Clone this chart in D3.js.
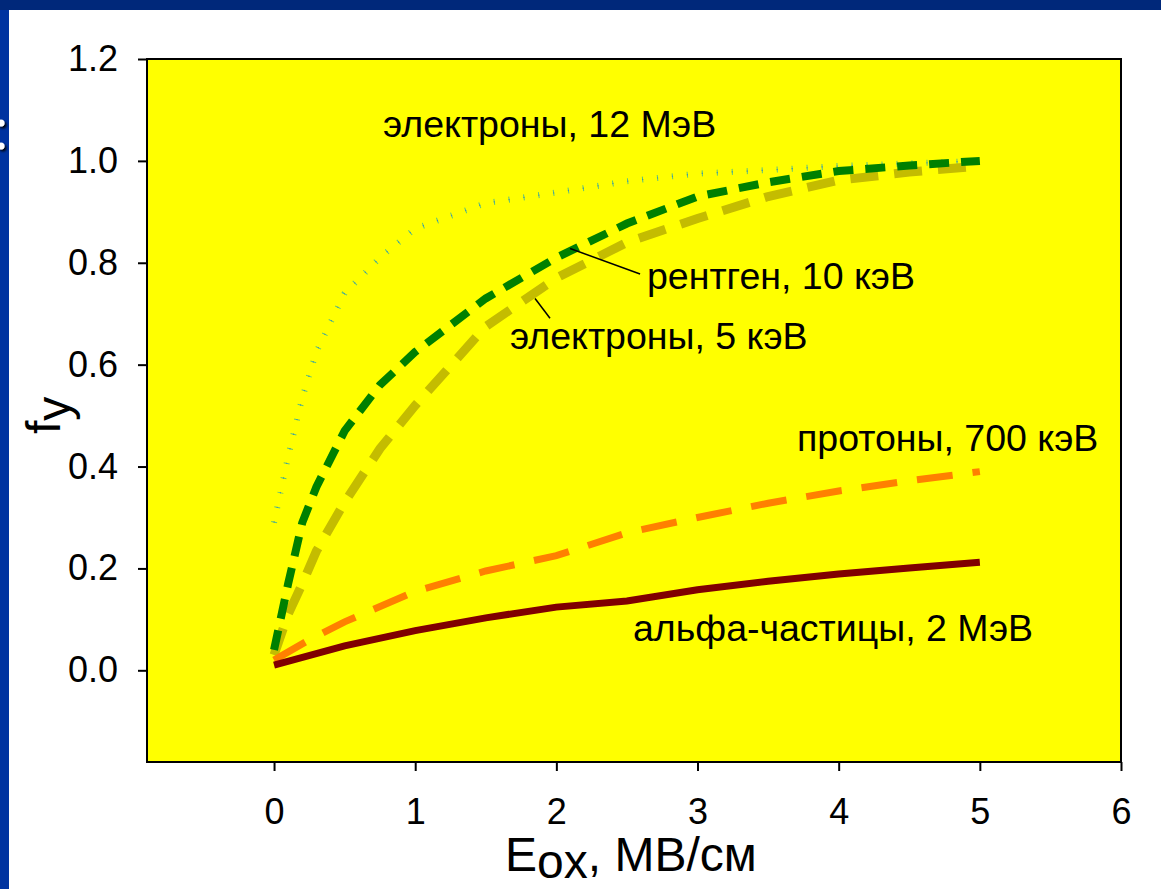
<!DOCTYPE html>
<html>
<head>
<meta charset="utf-8">
<script src="https://cdn.jsdelivr.net/npm/d3@7"></script>
<style>
  html, body { margin: 0; padding: 0; background: #ffffff; }
  svg { display: block; font-family: Arial, "Liberation Sans", sans-serif; }
</style>
</head>
<body>
<svg id="chart" width="1161" height="889"></svg>
<script>
// Field strength grid, MV/cm
const fieldFine = [0, 0.1, 0.2, 0.3, 0.5, 0.75, 1, 1.5, 2, 2.5, 3, 3.5, 4, 4.5, 5];
const fieldCoarse = [0, 0.25, 0.5, 1, 1.5, 2, 2.5, 3, 3.5, 4, 4.5, 5];
const fieldAlpha = [0, 0.5, 1, 1.5, 2, 2.5, 3, 3.5, 4, 4.5, 5];

// Charge yield f_y for each radiation type
const electrons12MeV = [0.29, 0.42, 0.535, 0.625, 0.74, 0.81, 0.867, 0.917, 0.938, 0.96, 0.975, 0.982, 0.99, 0.995, 1.0];
const xray10keV      = [0.04, 0.17, 0.29, 0.36, 0.47, 0.56, 0.625, 0.73, 0.81, 0.877, 0.93, 0.958, 0.98, 0.991, 1.0];
const electrons5keV  = [0.03, 0.11, 0.17, 0.234, 0.33, 0.435, 0.52, 0.675, 0.77, 0.84, 0.887, 0.93, 0.962, 0.978, 0.99];
const protons700keV  = [0.02, 0.06, 0.095, 0.155, 0.195, 0.225, 0.27, 0.30, 0.328, 0.352, 0.372, 0.39];
const alpha2MeV      = [0.01, 0.048, 0.078, 0.103, 0.124, 0.136, 0.158, 0.175, 0.189, 0.201, 0.212];

const xTicks = [0, 1, 2, 3, 4, 5, 6];
const yTicks = [0.0, 0.2, 0.4, 0.6, 0.8, 1.0, 1.2];

const svg = d3.select("#chart");

// slide frame
svg.append("rect").attr("x", 0).attr("y", 0).attr("width", 1161).attr("height", 889).attr("fill", "#0033a0");
svg.append("rect").attr("x", 0).attr("y", 0).attr("width", 1161).attr("height", 10).attr("fill", "#00287a");
svg.append("rect").attr("x", 9).attr("y", 10).attr("width", 1152).attr("height", 879).attr("fill", "#ffffff");
const defs = svg.append("defs");
const sh = defs.append("filter").attr("id", "dotShadow").attr("x", "-100%").attr("y", "-100%").attr("width", "300%").attr("height", "300%");
sh.append("feDropShadow").attr("dx", 2).attr("dy", 2).attr("stdDeviation", 1.2).attr("flood-color", "#000000").attr("flood-opacity", 0.9);
[123, 146].forEach(cy => {
  svg.append("circle").attr("cx", 1).attr("cy", cy).attr("r", 3.5).attr("fill", "#ffffff").attr("filter", "url(#dotShadow)");
});

const plot = { left: 147, top: 59, right: 1121, bottom: 762 };

const x = d3.scaleLinear().domain([-0.9, 6]).range([plot.left, plot.right]);
const y = d3.scaleLinear().domain([-0.18, 1.2]).range([plot.bottom, plot.top]);

// plot area
svg.append("rect")
  .attr("x", plot.left).attr("y", plot.top)
  .attr("width", plot.right - plot.left).attr("height", plot.bottom - plot.top)
  .attr("fill", "#ffff00");

const clip = defs.append("clipPath").attr("id", "plotClip");
clip.append("rect").attr("x", plot.left).attr("y", plot.top)
  .attr("width", plot.right - plot.left).attr("height", plot.bottom - plot.top);

const g = svg.append("g").attr("clip-path", "url(#plotClip)");

const line = d3.line().x(d => x(d[0])).y(d => y(d[1]));

// each series may carry several stroke layers (the dotted one has a tick plus a small centre dot)
const series = [
  { xs: fieldFine, ys: electrons12MeV, strokes: [
      { color: "#5ec27a", width: 6, dash: "1,14", offset: 0 },
      { color: "#3f8fb0", width: 1.2, dash: "1.2,13.8", offset: 0.1 }
  ]},
  { xs: fieldFine,   ys: electrons5keV,  strokes: [{ color: "#c4bc00", width: 9, dash: "28,16" }] },
  { xs: fieldFine,   ys: xray10keV,      strokes: [{ color: "#008000", width: 8, dash: "20,12" }] },
  { xs: fieldCoarse, ys: protons700keV,  strokes: [{ color: "#ff8000", width: 7, dash: "36,20" }] },
  { xs: fieldAlpha,  ys: alpha2MeV,      strokes: [{ color: "#800000", width: 7, dash: null }] }
];

series.forEach(s => {
  const pts = s.xs.map((v, i) => [v, s.ys[i]]);
  s.strokes.forEach(st => {
    g.append("path")
      .attr("d", line(pts))
      .attr("fill", "none")
      .attr("stroke", st.color)
      .attr("stroke-width", st.width)
      .attr("stroke-dasharray", st.dash)
      .attr("stroke-dashoffset", st.offset || 0)
      .attr("stroke-linejoin", "miter");
  });
});

// frame
svg.append("rect")
  .attr("x", plot.left).attr("y", plot.top)
  .attr("width", plot.right - plot.left).attr("height", plot.bottom - plot.top)
  .attr("fill", "none").attr("stroke", "#000000").attr("stroke-width", 2);

// axes
const xAxis = d3.axisBottom(x).tickValues(xTicks).tickFormat(d3.format("d")).tickSize(9).tickPadding(27);
const yAxis = d3.axisLeft(y).tickValues(yTicks).tickFormat(d3.format(".1f")).tickSize(9).tickPadding(20);

const gx = svg.append("g").attr("transform", `translate(0,${plot.bottom})`).call(xAxis);
const gy = svg.append("g").attr("transform", `translate(${plot.left},0)`).call(yAxis);
[gx, gy].forEach(a => {
  a.select(".domain").remove();
  a.selectAll(".tick line").attr("stroke", "#000000").attr("stroke-width", 2);
  a.selectAll(".tick text").attr("fill", "#000000").style("font-size", "36px")
    .style("font-family", "Arial, 'Liberation Sans', sans-serif");
});

// axis titles
const xt = svg.append("text").attr("x", 505).attr("y", 871)
  .style("font-size", "48px").attr("fill", "#000000");
xt.append("tspan").text("E");
xt.append("tspan").attr("dy", 7).text("ox");
xt.append("tspan").attr("dy", -7).text(", МВ/см");

const yt = svg.append("text")
  .attr("transform", "translate(60,434) rotate(-90)")
  .style("font-size", "48px").attr("fill", "#000000");
yt.append("tspan").text("f");
yt.append("tspan").attr("dy", 10).text("y");

// curve annotations, placed in data coordinates
const labels = [
  { t: "электроны, 12 МэВ", fx: 0.772, fy: 1.046 },
  { t: "рентген, 10 кэВ",   fx: 2.642, fy: 0.749 },
  { t: "электроны, 5 кэВ",  fx: 1.672, fy: 0.6315 },
  { t: "протоны, 700 кэВ",  fx: 3.705, fy: 0.431 },
  { t: "альфа-частицы, 2 МэВ", fx: 2.543, fy: 0.058 }
];
labels.forEach(l => {
  svg.append("text").attr("x", x(l.fx)).attr("y", y(l.fy))
    .style("font-size", "37.5px").attr("fill", "#000000").text(l.t);
});

const leaders = [
  [[2.097, 0.828], [2.593, 0.778]],
  [[1.849, 0.730], [1.955, 0.691]]
];
leaders.forEach(p => {
  svg.append("line")
    .attr("x1", x(p[0][0])).attr("y1", y(p[0][1]))
    .attr("x2", x(p[1][0])).attr("y2", y(p[1][1]))
    .attr("stroke", "#000000").attr("stroke-width", 1.5);
});
</script>
</body>
</html>
